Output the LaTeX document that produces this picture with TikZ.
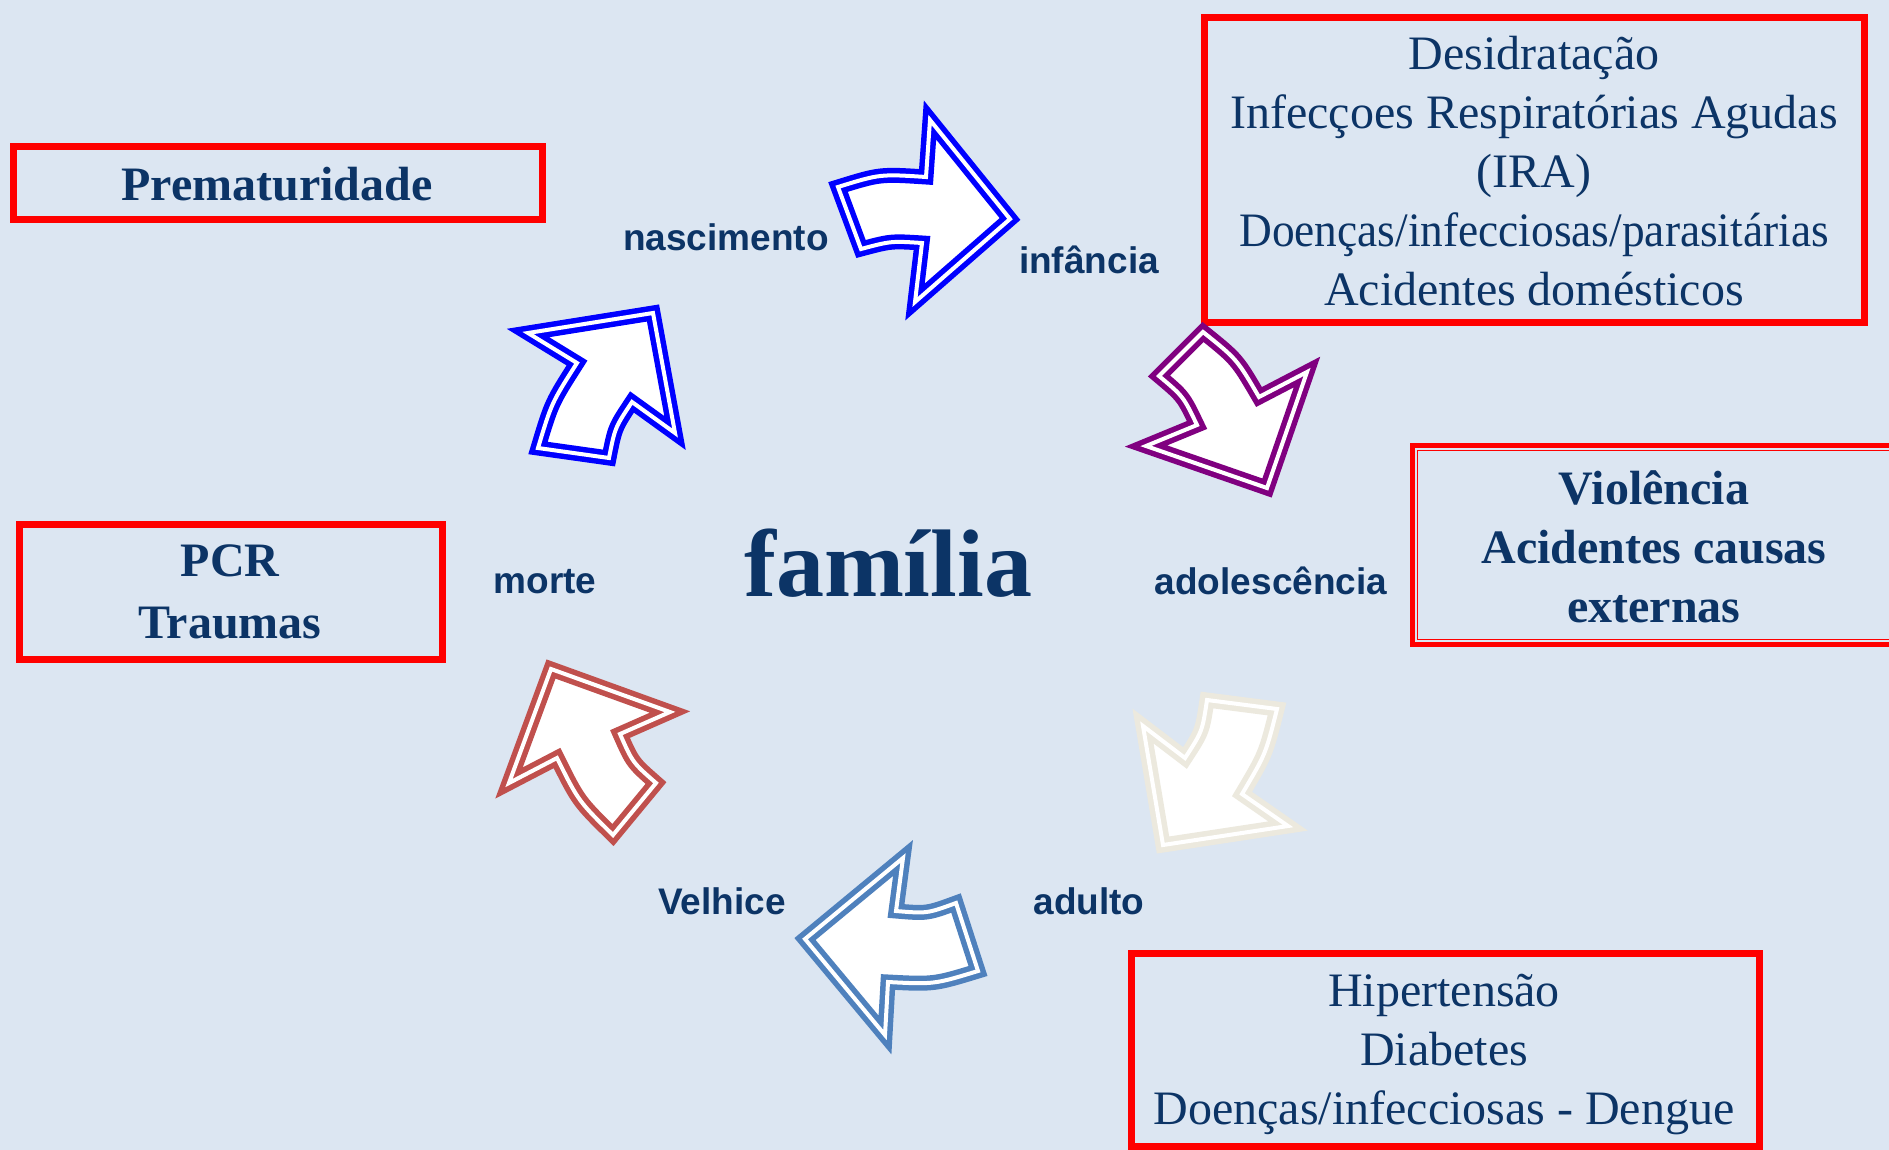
\documentclass[tikz,border=0pt]{standalone}
\usepackage{fontspec}
\usepackage{graphicx}
\setmainfont{Liberation Serif}
\newfontfamily\lsans{Liberation Sans}
\definecolor{bgc}{RGB}{220,230,242}
\definecolor{navy}{RGB}{12,52,102}
\definecolor{boxred}{RGB}{255,0,0}
\definecolor{cblue}{RGB}{0,0,255}
\definecolor{cpurple}{RGB}{128,0,128}
\definecolor{cbeige}{RGB}{236,233,222}
\definecolor{csteel}{RGB}{79,129,189}
\definecolor{cbrick}{RGB}{192,80,77}
\begin{document}
\begin{tikzpicture}[x=1pt,y=-1pt,
  arr/.style={fill=white,line width=5.5pt,double=white,double distance=4pt,line join=miter,miter limit=20},
  redbox/.style={draw=boxred,line width=7pt},
  boxtxt/.style={text=navy,align=center,font=\fontsize{48}{59}\selectfont},
  boxbold/.style={text=navy,align=center,font=\bfseries\fontsize{48}{59}\selectfont},
  lbl/.style={text=navy,font=\lsans\bfseries\fontsize{37}{44}\selectfont}]
\fill[bgc] (0,0) rectangle (1889,1150);
\useasboundingbox (0,0) rectangle (1889,1150);

% boxes
\draw[redbox] (13,147) rectangle (542,220);
\draw[redbox] (1204,18) rectangle (1864,322);
\draw[redbox] (19,524) rectangle (442,659);
\draw[redbox] (1131,953) rectangle (1759,1146);
\draw[draw=boxred,line width=5pt] (1412.5,445.8) rectangle (1900,644.2);
\draw[draw=boxred,line width=1.3pt] (1417.5,450.8) rectangle (1900,639.2);

% box texts
\node[boxbold] (prem) at (277,184) {Prematuridade};
\node[boxtxt] (infbox) at (1534,171) {Desidratação\\Infecçoes Respiratórias Agudas\\(IRA)\\\scalebox{0.945}[1]{Doenças/infecciosas/parasitárias}\\Acidentes domésticos};
\node[boxbold] (adobox) at (1654,547) {Violência\\Acidentes causas\\externas};
\node[boxbold,font=\bfseries\fontsize{48}{62}\selectfont] (mortebox) at (230,592) {PCR\\Traumas};
\node[boxtxt] (adultbox) at (1444,1054) {Hipertensão\\Diabetes\\Doenças/infecciosas - Dengue};

% centre
\node[text=navy,font=\bfseries\fontsize{96}{110}\selectfont] (fam) at (888,563) {família};

% labels
\node[lbl] (nasc) at (726,237) {nascimento};
\node[lbl] (inf) at (1089,260) {infância};
\node[lbl] (ado) at (1271,581) {adolescência};
\node[lbl] (morte) at (545,582) {morte};
\node[lbl] (adulto) at (1089,901) {adulto};
\node[lbl] (velh) at (722,901) {Velhice};

% arrows
\draw[arr,draw=cblue] (838,187) -- (861,249) .. controls (891,241) .. (922,243) -- (915,302) -- (1010,219) -- (930,120) -- (926,177) .. controls (880,174) .. cycle;
\draw[arr,draw=cblue] (528,333) -- (577,363) .. controls (551.6,402.8) .. (538,448) -- (609,458) .. controls (615,427.5) .. (632,402) -- (675,433) -- (653,313) -- cycle;
\draw[arr,draw=cpurple] (1203,332) -- (1159,376) .. controls (1183.3,396.4) .. (1197,425) -- (1146,446) -- (1267,488) -- (1307,372) -- (1259,397) .. controls (1237,359.3) .. cycle;
\draw[arr,draw=cbeige] (1207,700) -- (1277,709) .. controls (1265.7,754) .. (1242,794) -- (1288,826) -- (1163,845) -- (1143,726) -- (1185,758) .. controls (1202.3,731.4) .. cycle;
\draw[arr,draw=csteel] (903,858) -- (896,911) .. controls (927,913.6) .. (956,903) -- (978,971) .. controls (934,984.4) .. (888,982) -- (885,1035) -- (805,939) -- cycle;
\draw[arr,draw=cbrick] (551,669) -- (670,712) -- (620,734) .. controls (632.6,762.5) .. (656,783) -- (613,835) .. controls (578.5,801.2) .. (557,758) -- (509,783) -- cycle;
\end{tikzpicture}
\end{document}
